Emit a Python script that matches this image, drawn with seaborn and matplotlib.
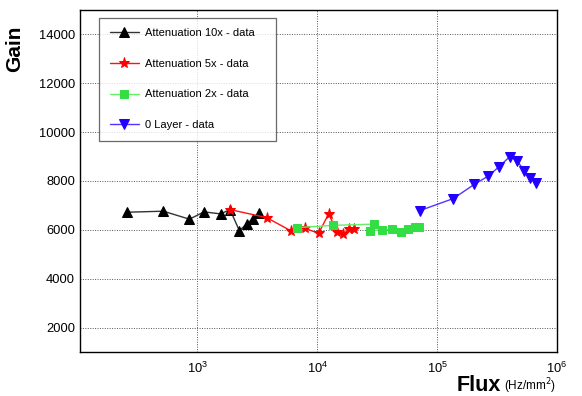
import numpy as np
import pandas as pd
import matplotlib
matplotlib.use("Agg")
import matplotlib.pyplot as plt
import seaborn as sns
from matplotlib.ticker import LogLocator, MultipleLocator, NullFormatter

# data (flux in Hz/mm^2, gain)
flux_10x = [261, 521, 858, 1137, 1564, 1873, 2239, 2576, 2889, 3286]
gain_10x = [6722, 6763, 6437, 6735, 6653, 6829, 5971, 6233, 6461, 6706]

flux_5x = [1873, 3780, 6039, 7943, 10250, 12420, 14760, 16520, 18480, 20330]
gain_5x = [6829, 6502, 5959, 6061, 5857, 6641, 5931, 5824, 6033, 6020]

flux_2x = [6813, 13594, 29560, 27660, 34810, 41930, 50350, 57540, 65900, 71200]
gain_2x = [6094, 6184, 6233, 5971, 6000, 6029, 5906, 6033, 6110, 6110]

flux_0l = [71450, 136800, 204800, 267600, 328500, 403400, 464200, 534000, 599000, 664500]
gain_0l = [6784, 7282, 7865, 8204, 8584, 8992, 8829, 8420, 8135, 7906]

series = [
    ("Attenuation 10x - data", flux_10x, gain_10x, "^", "#000000", "#333333", 6.5),
    ("Attenuation 5x - data", flux_5x, gain_5x, "*", "#ff0000", "#ff1111", 8),
    ("Attenuation 2x - data", flux_2x, gain_2x, "s", "#33dd44", "#66ee66", 6),
    ("0 Layer - data", flux_0l, gain_0l, "v", "#2200ff", "#5533ff", 6.5),
]

sns.set_style("white", {"text.color": "black", "axes.labelcolor": "black",
                        "xtick.color": "black", "ytick.color": "black"})
plt.rcParams['font.family'] = ['Liberation Sans', 'DejaVu Sans']

fig = plt.figure(figsize=(5.82, 3.96), dpi=100)
ax = fig.add_axes([0.1375, 0.111, 0.8195, 0.864])

for label, fx, gy, mk, mcol, lcol, ms in series:
    df = pd.DataFrame({"flux": fx, "gain": gy})
    sns.lineplot(data=df, x="flux", y="gain", sort=False, estimator=None,
                 marker=mk, markersize=ms, color=lcol, markerfacecolor=mcol,
                 markeredgecolor=mcol, linewidth=1.0, label=label, ax=ax)

ax.set_xscale("log")
ax.set_xlim(105, 1e6)
ax.set_ylim(1000, 15000)

ax.xaxis.set_major_locator(LogLocator(base=10, numticks=10))
ax.xaxis.set_minor_locator(LogLocator(base=10, subs=np.arange(2, 10), numticks=20))
ax.xaxis.set_minor_formatter(NullFormatter())
ax.yaxis.set_major_locator(MultipleLocator(2000))
ax.yaxis.set_minor_locator(MultipleLocator(400))

ax.tick_params(which="both", direction="in", top=False, right=False,
               labelsize=9.3, width=0.8, color="black", labelcolor="black")
ax.tick_params(which="major", length=9)
ax.tick_params(which="minor", length=4.5)
ax.tick_params(axis="x", pad=6)

ax.grid(which="major", linestyle=(0, (1, 1.5)), color="#555555", linewidth=0.7)
for sp in ax.spines.values():
    sp.set_color("black")
    sp.set_linewidth(1.0)

ax.set_xlabel("")
ax.set_ylabel("Gain", fontsize=15, fontweight="bold", color="black")
ax.yaxis.set_label_coords(-0.118, 0.885)

fig.text(0.86, 0.012, "Flux", fontsize=15.5, fontweight="bold", ha="right",
         va="baseline", color="black")
fig.text(0.955, 0.015, "(Hz/mm$^2$)", fontsize=8.5, ha="right", va="baseline",
         color="black")

leg = ax.legend(loc="upper left", bbox_to_anchor=(0.04, 0.603, 0.371, 0.374),
                mode="expand", borderaxespad=0, frameon=True, fancybox=False,
                edgecolor="#444444", fontsize=8, labelspacing=1.85,
                handlelength=2.6, handletextpad=0.6, borderpad=0.95)
leg.get_frame().set_linewidth(0.9)
for t in leg.get_texts():
    t.set_color("black")

fig.savefig("out.png", dpi=100)
